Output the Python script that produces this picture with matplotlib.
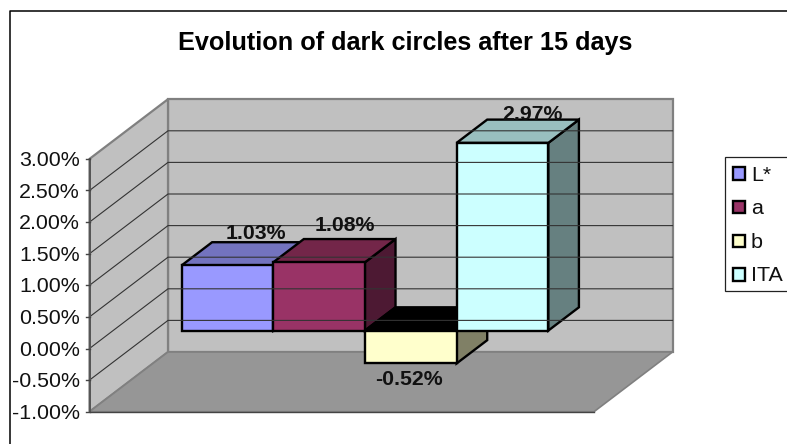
import matplotlib
matplotlib.use('Agg')
import matplotlib.pyplot as plt
from matplotlib.patches import Polygon, Rectangle

plt.rcParams['font.family'] = ['Liberation Sans', 'DejaVu Sans']

title = 'Evolution of dark circles after 15 days'
series = ['L*', 'a', 'b', 'ITA']
values = [1.03, 1.08, -0.52, 2.97]
ticks = [-1.0, -0.5, 0.0, 0.5, 1.0, 1.5, 2.0, 2.5, 3.0]

front = ['#9999FF', '#993366', '#FFFFCC', '#CCFFFF']
top = ['#7373BF', '#732649', '#000000', '#99BFBF']
side = ['#52528A', '#4D1933', '#808066', '#668080']

# oblique projection, all in image pixels
X0, Y_MIN = 89.5, 411.7
PX_PER_PCT = 63.2
DX, DY = 78.5, -59.7
FLOOR_W = 504.5
BAR_X0 = 181.5 - 0.3 * DX - X0
BAR_W = 91.7
WALL = '#C0C0C0'
TEXT_DY = 1.5  # va='center' sits a bit high


def proj(x, v, d):
    # x along the floor, v in percent, d depth 0..1
    return (X0 + x + d * DX, Y_MIN - (v - ticks[0]) * PX_PER_PCT + d * DY)


fig = plt.figure(figsize=(7.87, 4.44), dpi=100)
ax = fig.add_axes([0, 0, 1, 1])
ax.set_xlim(0, 787)
ax.set_ylim(444, 0)
ax.axis('off')

# chart border, only left and top show
ax.plot([9.5, 9.5, 787], [444, 11.5, 11.5], color='black', lw=1.1, solid_capstyle='butt')
ax.text(405.5, 41.5 + TEXT_DY, title, ha='center', va='center', fontsize=18.2, fontweight='bold')

vmin, vmax = ticks[0], ticks[-1]

# walls and floor
ax.add_patch(Polygon([proj(0, vmin, 1), proj(FLOOR_W, vmin, 1), proj(FLOOR_W, vmax, 1), proj(0, vmax, 1)],
                     fc=WALL, ec='#808080', lw=1.6, joinstyle='miter'))
ax.add_patch(Polygon([proj(0, vmin, 0), proj(0, vmin, 1), proj(0, vmax, 1), proj(0, vmax, 0)],
                     fc=WALL, ec='#808080', lw=1.6, joinstyle='miter'))
ax.add_patch(Polygon([proj(0, vmin, 0), proj(FLOOR_W, vmin, 0), proj(FLOOR_W, vmin, 1), proj(0, vmin, 1)],
                     fc='#969696', ec='#808080', lw=1.2, joinstyle='miter'))

# gridlines on both walls
for t in ticks[1:-1]:
    pts = [proj(0, t, 0), proj(0, t, 1), proj(FLOOR_W, t, 1)]
    ax.plot([p[0] for p in pts], [p[1] for p in pts], color='#333333', lw=0.8)

# front edges and tick labels
ax.plot(*zip(proj(0, vmax, 0), proj(0, vmin, 0)), color='#555555', lw=1.4)
ax.plot(*zip(proj(0, vmin, 0), proj(FLOOR_W, vmin, 0)), color='#444444', lw=1.0)
for t in ticks:
    x, y = proj(0, t, 0)
    ax.plot([x - 4, x], [y, y], color='#444444', lw=1.0)
    ax.text(80, y + TEXT_DY, '%.2f%%' % t, ha='right', va='center', fontsize=15.4, color='#111111')

# data labels go under the bars, the 2.97% one is cut by its bar
label_pos = [(256, 232), (344.5, 224), (408.5, 378), (532, 113)]
for v, (lx, ly) in zip(values, label_pos):
    ax.text(lx, ly + TEXT_DY, '%.2f%%' % v, ha='center', va='center', fontsize=15.3, fontweight='bold', color='#111111')

# bars, left to right
for i, v in enumerate(values):
    xa = BAR_X0 + i * BAR_W
    xb = xa + BAR_W
    d0, d1 = 0.3, 0.3 + 0.39
    edge = dict(ec='black', lw=1.7, joinstyle='miter')
    ax.add_patch(Polygon([proj(xb, 0, d0), proj(xb, 0, d1), proj(xb, v, d1), proj(xb, v, d0)], fc=side[i], **edge))
    face_top = max(v, 0)
    ax.add_patch(Polygon([proj(xa, face_top, d0), proj(xb, face_top, d0), proj(xb, face_top, d1), proj(xa, face_top, d1)],
                         fc=top[i], **edge))
    ax.add_patch(Polygon([proj(xa, 0, d0), proj(xb, 0, d0), proj(xb, v, d0), proj(xa, v, d0)], fc=front[i], **edge))

# legend
ax.add_patch(Rectangle((724.5, 156.7), 70, 134.3, fc='white', ec='#222222', lw=0.9))
for i, name in enumerate(series):
    y = 173.5 + i * 33.6
    ax.add_patch(Rectangle((732.5, y - 6.2), 12.5, 12.5, fc=front[i], ec='black', lw=1.7))
    ax.text(751, y + TEXT_DY, name, ha='left', va='center', fontsize=15.4, color='#111111')

fig.savefig('out.png', dpi=100)
plt.close()
